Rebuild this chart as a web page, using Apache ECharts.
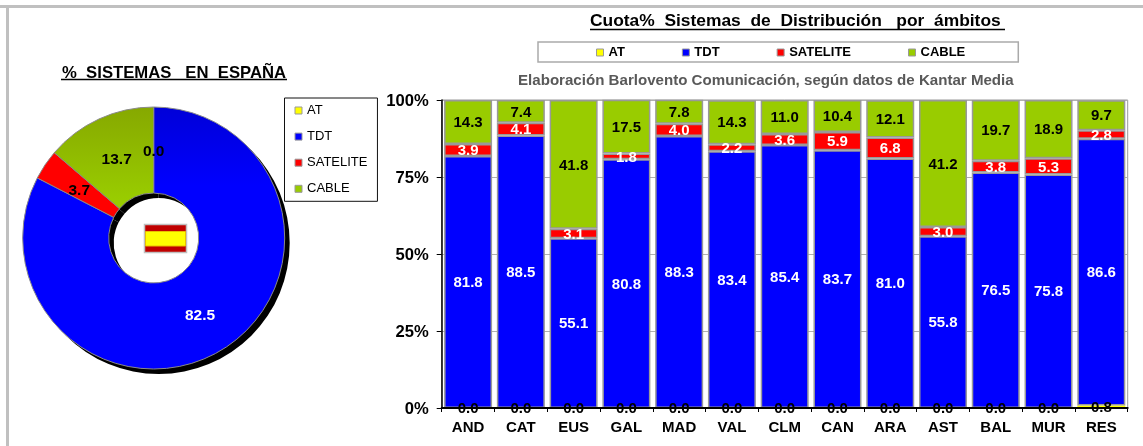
<!DOCTYPE html>
<html><head><meta charset="utf-8">
<style>html,body{margin:0;padding:0;background:#fff}#c{width:1143px;height:446px}</style>
<script src="https://cdn.jsdelivr.net/npm/echarts@6/dist/echarts.min.js"></script>
</head><body><div id="c"></div>
<script>
const categories = ['AND','CAT','EUS','GAL','MAD','VAL','CLM','CAN','ARA','AST','BAL','MUR','RES'];
const AT       = [0,0,0,0,0,0,0,0,0,0,0,0,0.8];
const TDT      = [81.8,88.5,55.1,80.8,88.3,83.4,85.4,83.7,81.0,55.8,76.5,75.8,86.6];
const SATELITE = [3.9,4.1,3.1,1.8,4.0,2.2,3.6,5.9,6.8,3.0,3.8,5.3,2.8];
const CABLE    = [14.3,7.4,41.8,17.5,7.8,14.3,11.0,10.4,12.1,41.2,19.7,18.9,9.7];
const seriesNames = ['AT','TDT','SATELITE','CABLE'];
const pieValues = [0.0,82.5,3.7,13.7];
const yTicks = {min:0,max:100,interval:25};

const FONT = 'Liberation Sans';
const GRAY = '#999999';
const colors = ['#ffff00','#0000ff','#ff0000','#99cc00'];
const labelColors = ['#000','#fff','#fff','#000'];
const fmt = p => Number(p.value).toFixed(1);
const barData = [AT,TDT,SATELITE,CABLE];

const pieCenter = [153.7,238], pieRadius = [45,131];
const pieLabelNudge = [[0,5],[-1,0],[1,4],[1,4]];

const vGrad = (a,b,stop) => ({type:'linear',x:0,y:0,x2:0,y2:1,colorStops:[{offset:0,color:a},{offset:stop,color:b},{offset:1,color:b}]});
const pieColors = ['#ffff00', vGrad('#0000d8','#0000ff',0.3), '#ff0000', vGrad('#86a800','#99cc00',0.9)];

const option = {
  backgroundColor:'#fff',
  animation:false,
  textStyle:{fontFamily:FONT},
  title:[
    {text:'Cuota%  Sistemas  de  Distribución   por  ámbitos',left:590,top:13,padding:0,textStyle:{fontFamily:FONT,fontSize:17.4,fontWeight:'bold',color:'#000'}},
    {text:'Elaboración Barlovento Comunicación, según datos de Kantar Media',left:518,top:73,padding:0,textStyle:{fontFamily:FONT,fontSize:15.1,fontWeight:'bold',color:'#595959'}},
    {text:'%  SISTEMAS   EN  ESPAÑA',left:62,top:65,padding:0,textStyle:{fontFamily:FONT,fontSize:16.7,fontWeight:'bold',color:'#000'}}
  ],
  legend:[
    {data:seriesNames,orient:'horizontal',left:538,top:42,padding:[4,53,3,58],itemGap:57,itemWidth:7,itemHeight:7,icon:'rect',
     itemStyle:{borderColor:GRAY,borderWidth:1},
     borderColor:'#aaaaaa',borderWidth:1.5,selectedMode:false,textStyle:{fontFamily:FONT,fontSize:13,fontWeight:'bold',color:'#000'}},
    {data:seriesNames,orient:'vertical',left:284.5,top:98,padding:[6,10,6,10],itemGap:13.1,itemWidth:7,itemHeight:7,icon:'rect',
     itemStyle:{borderColor:GRAY,borderWidth:1},
     borderColor:'#111',borderWidth:1,selectedMode:false,textStyle:{fontFamily:FONT,fontSize:13,color:'#000'}}
  ],
  grid:{left:441.7,top:100,width:686,height:308,show:true,borderColor:GRAY,borderWidth:1,backgroundColor:'transparent'},
  xAxis:{type:'category',data:categories,z:5,
    axisLine:{lineStyle:{color:'#000',width:2}},
    axisTick:{show:true,alignWithLabel:false,length:4,lineStyle:{color:'#000',width:1}},
    axisLabel:{fontFamily:FONT,fontSize:15,fontWeight:'bold',color:'#000',margin:12,interval:0}},
  yAxis:{type:'value',min:yTicks.min,max:yTicks.max,interval:yTicks.interval,
    axisLine:{show:true,lineStyle:{color:'#000',width:1.5}},
    axisTick:{show:true,length:5,lineStyle:{color:'#000',width:1}},
    splitLine:{show:true,lineStyle:{color:'#b0b0b0',width:1}},
    axisLabel:{formatter:'{value}%',fontFamily:FONT,fontSize:16.6,fontWeight:'bold',color:'#000',margin:13,verticalAlign:'bottom',padding:[0,0,-10,0]}},
  series:[
    ...seriesNames.map((n,i)=>({
      name:n,type:'bar',stack:'total',data:barData[i],barWidth:48,
      itemStyle:{color:colors[i],borderColor:GRAY,borderWidth:i===0?0:1.5},
      label:{show:true,position:'inside',formatter:fmt,fontFamily:FONT,fontSize:15,fontWeight:'bold',color:labelColors[i]},
      labelLayout:{dy:1},
      z:3
    })),
    {name:'sombra',type:'pie',silent:true,center:[pieCenter[0]+5,pieCenter[1]+5],radius:pieRadius,startAngle:90,clockwise:true,
     data:pieValues.map((v,i)=>({value:v,name:'s'+i})),label:{show:false},labelLine:{show:false},
     itemStyle:{color:'#000',borderWidth:0},z:1},
    {name:'ESPAÑA',type:'pie',center:pieCenter,radius:pieRadius,startAngle:90,clockwise:true,minAngle:0,stillShowZeroSum:true,
     data:pieValues.map((v,i)=>({value:v,name:seriesNames[i],itemStyle:{color:pieColors[i]},
        label:{color:i===1?'#fff':'#000'}})),
     itemStyle:{borderColor:'#8a8a8a',borderWidth:1},
     label:{show:true,position:'inside',formatter:fmt,fontFamily:FONT,fontSize:15.5,fontWeight:'bold'},
     labelLayout:p=>({dx:pieLabelNudge[p.dataIndex][0],dy:pieLabelNudge[p.dataIndex][1]}),
     labelLine:{show:false},z:2}
  ],
  graphic:[
    {type:'line',shape:{x1:0,y1:6.5,x2:1143,y2:6.5},style:{stroke:'#c0c0c0',lineWidth:3},silent:true},
    {type:'line',shape:{x1:7.5,y1:5,x2:7.5,y2:446},style:{stroke:'#c0c0c0',lineWidth:3},silent:true},
    {type:'line',shape:{x1:590,y1:29.5,x2:1005,y2:29.5},style:{stroke:'#000',lineWidth:1.5},silent:true},
    {type:'line',shape:{x1:61,y1:79.5,x2:287,y2:79.5},style:{stroke:'#000',lineWidth:1.5},silent:true},
    {type:'rect',shape:{x:144.5,y:224.5,width:42,height:28},style:{fill:'#c00000',stroke:'#c0c0c0',lineWidth:1.5},silent:true,z:10},
    {type:'rect',shape:{x:145.5,y:231.5,width:40,height:14.5},style:{fill:'#ffff00',stroke:'#e8c000',lineWidth:1},silent:true,z:11}
  ]
};
const chart = echarts.init(document.getElementById('c'),null,{renderer:'canvas'});
chart.setOption(option);
</script></body></html>
